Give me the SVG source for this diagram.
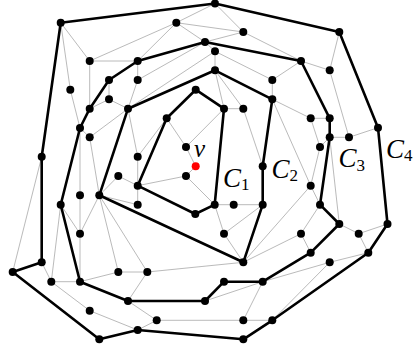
<svg xmlns="http://www.w3.org/2000/svg" width="413" height="349" viewBox="0 0 413 349">
<style>
.g{stroke:#a8a8a8;stroke-width:0.8;fill:none}
.t{stroke:#000;stroke-width:2.6;fill:none;stroke-linejoin:round}
.n{fill:#000}
.r{fill:#f00}
.lb{font-family:"Liberation Serif","Times New Roman",serif;font-style:italic;fill:#000}
.sb{font-style:normal;font-size:17px}
</style>
<rect width="413" height="349" fill="#fff"/>
<g id="connectors">
<path class="g" d="M60.7 22.7L89.7 61M60.7 22.7L70.3 89.7M70.3 89.7L80 128M89.7 61L176.3 22.7M89.7 61L137.7 61M89.7 61L89.7 108.7M176.3 22.7L215 3.5M176.3 22.7L243.3 32M176.3 22.7L137.7 61M176.3 22.7L205 42M215 3.5L243.3 32M243.3 32L205 42M243.3 32L301 61M137.7 61L137.7 80M137.7 80L128 108.7M137.7 80L205 42M109 80L109 99.3M109 99.3L128 108.7M109 99.3L89.7 108.7M205 42L215 51.3M215 51.3L215 70.3M215 51.3L272.3 80M215 51.3L128 108.7M215 70.3L224 108.7M215 70.3L243.3 108.7M224 108.7L243.3 108.7M243.3 108.7L262.7 166.3M224 108.7L186 147M166.7 118.3L186 147M186 147L195.7 166.3M195.7 166.3L186 176M186 176L137.7 185.7M186 176L214.7 204.7M272.3 80L272.3 99.3M272.3 80L301 61M301 61L329.7 70.3M329.7 70.3L339.3 32M329.7 70.3L349 137.3M349 137.3L378 127.7M349 137.3L329.7 137.3M329.7 137.3L339.3 224M272.3 99.3L310.7 118.3M310.7 118.3L329.7 118.3M310.7 118.3L320 147M320 147L310.7 185.7M320 147L329.7 137.3M272.3 99.3L310.7 185.7M310.7 185.7L243.3 262.3M310.7 185.7L320 204.7M320 204.7L301 233.7M301 233.7L243.3 262.3M301 233.7L310.7 252.7M339.3 224L358.7 233.7M358.7 233.7L387.5 224M358.7 233.7L368.3 252.7M368.3 252.7L329.7 262.3M329.7 262.3L262.7 281.7M329.7 262.3L272.3 320.3M262.7 281.7L243.3 320.3M243.3 320.3L272.3 320.3M243.3 320.3L156.7 320.3M156.7 320.3L137.7 330M156.7 320.3L128 301M205 301L262.7 281.7M147.3 272L128 301M147.3 272L243.3 262.3M147.3 272L118.3 272M147.3 272L99.3 195.3M118.3 272L99.3 195.3M118.3 272L80 281.7M80 128L80 281.7M80 233.7L99.3 195.3M80 233.7L60.7 204.7M51.3 281.7L60.7 204.7M51.3 281.7L41.7 262.3M51.3 281.7L80 281.7M51.3 281.7L89.7 310.7M89.7 310.7L137.7 330M12.7 272L41.7 156.7M80 128L89.7 137.3M89.7 137.3L99.3 195.3M89.7 137.3L128 108.7M128 108.7L137.7 156.7M137.7 156.7L137.7 204.7M137.7 156.7L166.7 118.3M137.7 204.7L99.3 195.3M99.3 195.3L118.3 176M118.3 176L137.7 185.7M214.7 204.7L262.7 204.7M214.7 204.7L224 233.7M224 233.7L262.7 204.7M224 233.7L243.3 262.3"/>
<path class="t" d="M60.7 22.7L215 3.5L339.3 32L378 127.7L387.5 224L368.3 252.7L272.3 320.3L243.3 339.3L137.7 330L99.3 339.3L12.7 272L41.7 262.3L41.7 156.7Z"/>
<path class="t" d="M137.7 61L205 42L301 61L329.7 118.3L329.7 137.3L320 204.7L339.3 224L310.7 252.7L262.7 281.7L224 281.7L205 301L128 301L80 281.7L60.7 204.7L80 128L89.7 108.7L109 80Z"/>
<path class="t" d="M128 108.7L215 70.3L272.3 99.3L262.7 166.3L262.7 204.7L243.3 262.3L99.3 195.3Z"/>
<path class="t" d="M166.7 118.3L195.7 89.7L224 108.7L214.7 204.7L195.3 214L137.7 185.7Z"/>
</g>
<g id="A1"><circle class="n" cx="60.7" cy="22.7" r="4"/></g>
<g id="A2"><circle class="n" cx="215" cy="3.5" r="4"/></g>
<g id="A3"><circle class="n" cx="339.3" cy="32" r="4"/></g>
<g id="A4"><circle class="n" cx="378" cy="127.7" r="4"/></g>
<g id="A5"><circle class="n" cx="387.5" cy="224" r="4"/></g>
<g id="A6"><circle class="n" cx="368.3" cy="252.7" r="4"/></g>
<g id="A7"><circle class="n" cx="272.3" cy="320.3" r="4"/></g>
<g id="A8"><circle class="n" cx="243.3" cy="339.3" r="4"/></g>
<g id="A9"><circle class="n" cx="137.7" cy="330" r="4"/></g>
<g id="A10"><circle class="n" cx="99.3" cy="339.3" r="4"/></g>
<g id="A11"><circle class="n" cx="12.7" cy="272" r="4"/></g>
<g id="A12"><circle class="n" cx="41.7" cy="262.3" r="4"/></g>
<g id="A13"><circle class="n" cx="41.7" cy="156.7" r="4"/></g>
<g id="B1"><circle class="n" cx="137.7" cy="61" r="4"/></g>
<g id="B2"><circle class="n" cx="205" cy="42" r="4"/></g>
<g id="B3"><circle class="n" cx="301" cy="61" r="4"/></g>
<g id="B4"><circle class="n" cx="329.7" cy="118.3" r="4"/></g>
<g id="B5"><circle class="n" cx="329.7" cy="137.3" r="4"/></g>
<g id="B6"><circle class="n" cx="320" cy="204.7" r="4"/></g>
<g id="B7"><circle class="n" cx="339.3" cy="224" r="4"/></g>
<g id="B8"><circle class="n" cx="310.7" cy="252.7" r="4"/></g>
<g id="B9"><circle class="n" cx="262.7" cy="281.7" r="4"/></g>
<g id="B10"><circle class="n" cx="224" cy="281.7" r="4"/></g>
<g id="B11"><circle class="n" cx="205" cy="301" r="4"/></g>
<g id="B12"><circle class="n" cx="128" cy="301" r="4"/></g>
<g id="B13"><circle class="n" cx="80" cy="281.7" r="4"/></g>
<g id="B14"><circle class="n" cx="60.7" cy="204.7" r="4"/></g>
<g id="B15"><circle class="n" cx="80" cy="128" r="4"/></g>
<g id="B16"><circle class="n" cx="89.7" cy="108.7" r="4"/></g>
<g id="B17"><circle class="n" cx="109" cy="80" r="4"/></g>
<g id="D1"><circle class="n" cx="128" cy="108.7" r="4"/></g>
<g id="D2"><circle class="n" cx="215" cy="70.3" r="4"/></g>
<g id="D3"><circle class="n" cx="272.3" cy="99.3" r="4"/></g>
<g id="D4"><circle class="n" cx="262.7" cy="166.3" r="4"/></g>
<g id="D5"><circle class="n" cx="262.7" cy="204.7" r="4"/></g>
<g id="D6"><circle class="n" cx="243.3" cy="262.3" r="4"/></g>
<g id="D7"><circle class="n" cx="99.3" cy="195.3" r="4"/></g>
<g id="E1"><circle class="n" cx="166.7" cy="118.3" r="4"/></g>
<g id="E2"><circle class="n" cx="195.7" cy="89.7" r="4"/></g>
<g id="E3"><circle class="n" cx="224" cy="108.7" r="4"/></g>
<g id="E4"><circle class="n" cx="214.7" cy="204.7" r="4"/></g>
<g id="E5"><circle class="n" cx="195.3" cy="214" r="4"/></g>
<g id="E6"><circle class="n" cx="137.7" cy="185.7" r="4"/></g>
<g id="F1"><circle class="n" cx="176.3" cy="22.7" r="4"/></g>
<g id="F2"><circle class="n" cx="243.3" cy="32" r="4"/></g>
<g id="F3"><circle class="n" cx="89.7" cy="61" r="4"/></g>
<g id="F4"><circle class="n" cx="70.3" cy="89.7" r="4"/></g>
<g id="F5"><circle class="n" cx="329.7" cy="70.3" r="4"/></g>
<g id="F6"><circle class="n" cx="349" cy="137.3" r="4"/></g>
<g id="F7"><circle class="n" cx="358.7" cy="233.7" r="4"/></g>
<g id="F8"><circle class="n" cx="329.7" cy="262.3" r="4"/></g>
<g id="F9"><circle class="n" cx="243.3" cy="320.3" r="4"/></g>
<g id="F10"><circle class="n" cx="156.7" cy="320.3" r="4"/></g>
<g id="F11"><circle class="n" cx="89.7" cy="310.7" r="4"/></g>
<g id="F12"><circle class="n" cx="51.3" cy="281.7" r="4"/></g>
<g id="G1"><circle class="n" cx="137.7" cy="80" r="4"/></g>
<g id="G2"><circle class="n" cx="109" cy="99.3" r="4"/></g>
<g id="G3"><circle class="n" cx="89.7" cy="137.3" r="4"/></g>
<g id="G4"><circle class="n" cx="80" cy="195.3" r="4"/></g>
<g id="G5"><circle class="n" cx="80" cy="233.7" r="4"/></g>
<g id="G6"><circle class="n" cx="118.3" cy="272" r="4"/></g>
<g id="G7"><circle class="n" cx="147.3" cy="272" r="4"/></g>
<g id="G8"><circle class="n" cx="215" cy="51.3" r="4"/></g>
<g id="G9"><circle class="n" cx="272.3" cy="80" r="4"/></g>
<g id="G10"><circle class="n" cx="310.7" cy="118.3" r="4"/></g>
<g id="G11"><circle class="n" cx="320" cy="147" r="4"/></g>
<g id="G12"><circle class="n" cx="310.7" cy="185.7" r="4"/></g>
<g id="G13"><circle class="n" cx="301" cy="233.7" r="4"/></g>
<g id="H1"><circle class="n" cx="137.7" cy="156.7" r="4"/></g>
<g id="H2"><circle class="n" cx="118.3" cy="176" r="4"/></g>
<g id="H3"><circle class="n" cx="137.7" cy="204.7" r="4"/></g>
<g id="H4"><circle class="n" cx="243.3" cy="108.7" r="4"/></g>
<g id="H5"><circle class="n" cx="233.7" cy="204.7" r="4"/></g>
<g id="H6"><circle class="n" cx="224" cy="233.7" r="4"/></g>
<g id="I1"><circle class="n" cx="186" cy="147" r="4"/></g>
<g id="I2"><circle class="n" cx="186" cy="176" r="4"/></g>
<g id="v"><circle class="r" cx="195.7" cy="166.3" r="4"/><text class="lb" x="194" y="157" font-size="25">v</text></g>
<g id="labels">
<text class="lb" x="223" y="187" font-size="27">C<tspan class="sb" dy="3">1</tspan></text>
<text class="lb" x="271.5" y="177.5" font-size="27">C<tspan class="sb" dy="3">2</tspan></text>
<text class="lb" x="338.5" y="167" font-size="27">C<tspan class="sb" dy="3.5">3</tspan></text>
<text class="lb" x="386" y="157.5" font-size="27">C<tspan class="sb" dy="3.5">4</tspan></text>
</g>
</svg>
